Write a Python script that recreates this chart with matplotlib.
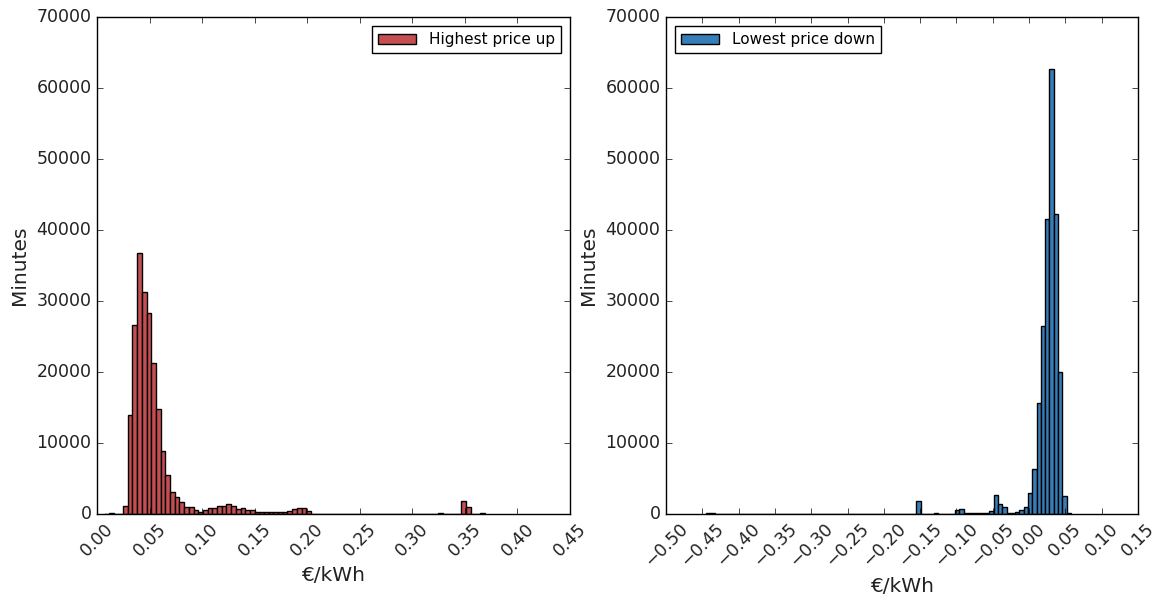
import numpy as np
import matplotlib
matplotlib.use("Agg")
import matplotlib.pyplot as plt

plt.style.use("classic")
plt.rcParams["font.family"] = ["DejaVu Sans"]
plt.rcParams["figure.facecolor"] = "white"
plt.rcParams["savefig.facecolor"] = "white"

# ---------------- data ----------------
# Highest price up: histogram, 81 equal bins
up_start = 0.0069
up_width = 0.00447
up_counts = [
    0, 100, 0, 0, 1170, 13940, 26600, 36700, 31200, 28260,
    21300, 14740, 8830, 5450, 3140, 2350, 1650, 940, 940, 560,
    330, 560, 800, 800, 1130, 1130, 1360, 1130, 660, 890,
    560, 560, 330, 240, 240, 240, 240, 240, 240, 420,
    700, 800, 800, 420, 30, 0, 0, 0, 0, 0,
    0, 0, 0, 0, 0, 0, 0, 0, 0, 0,
    0, 0, 0, 0, 0, 0, 0, 0, 0, 0,
    0, 150, 0, 0, 0, 0, 1800, 1000, 0, 0,
    150,
]

# Lowest price down: histogram, 85 equal bins
down_start = -0.4445
down_width = 0.005906
down_counts = [
    150, 100, 0, 0, 0, 0, 0, 0, 0, 0,
    0, 0, 0, 0, 0, 0, 0, 0, 0, 0,
    0, 0, 0, 0, 0, 0, 0, 0, 0, 0,
    0, 0, 0, 0, 0, 0, 0, 0, 0, 0,
    0, 0, 0, 0, 0, 0, 0, 0, 0, 1850,
    0, 0, 0, 150, 0, 0, 0, 0, 500, 650,
    200, 200, 200, 200, 200, 150, 450, 2700, 1400, 1030,
    200, 200, 300, 600, 1050, 2900, 6300, 15700, 26500, 41550,
    62650, 42200, 19930, 2500, 150,
]

up_label = "Highest price up"
down_label = "Lowest price down"
up_color = "#C44E52"
down_color = "#377EB8"

up_xticks = [0.00, 0.05, 0.10, 0.15, 0.20, 0.25, 0.30, 0.35, 0.40, 0.45]
down_xticks = [-0.50, -0.45, -0.40, -0.35, -0.30, -0.25, -0.20, -0.15, -0.10,
               -0.05, 0.00, 0.05, 0.10, 0.15]
yticks = [0, 10000, 20000, 30000, 40000, 50000, 60000, 70000]

# ---------------- plot ----------------
fig = plt.figure(figsize=(11.55, 5.94), dpi=100)
ax1 = fig.add_axes([97 / 1155, 1 - 514 / 594, (570 - 97) / 1155, (514 - 17) / 594])
ax2 = fig.add_axes([666 / 1155, 1 - 514 / 594, (1138 - 666) / 1155, (514 - 17) / 594])


def draw(ax, start, width, counts, color, label, xticks, loc):
    n = len(counts)
    edges = start + width * np.arange(n + 1)
    centers = (edges[:-1] + edges[1:]) / 2
    ax.hist(centers, bins=edges, weights=counts, color=color,
            edgecolor="black", linewidth=1.0, label=label)
    ax.set_xlim(xticks[0], xticks[-1])
    ax.set_ylim(0, 70000)
    ax.set_xticks(xticks)
    ax.set_xticklabels([f"{t:.2f}".replace("-", "\u2212") for t in xticks],
                       rotation=45, fontsize=12.5, color="#222222")
    ax.set_yticks(yticks)
    ax.set_yticklabels([str(t) for t in yticks], fontsize=12.5, color="#222222")
    ax.set_xlabel("\u20ac/kWh", fontsize=14.5, color="#222222")
    ax.set_ylabel("Minutes", fontsize=14.5, color="#222222")
    leg = ax.legend(loc=loc, fontsize=11, fancybox=False, borderaxespad=0.6,
                    handlelength=2.5)
    leg.get_frame().set_edgecolor("black")


draw(ax1, up_start, up_width, up_counts, up_color, up_label, up_xticks, "upper right")
draw(ax2, down_start, down_width, down_counts, down_color, down_label, down_xticks, "upper left")

fig.savefig("out.png", dpi=100)
